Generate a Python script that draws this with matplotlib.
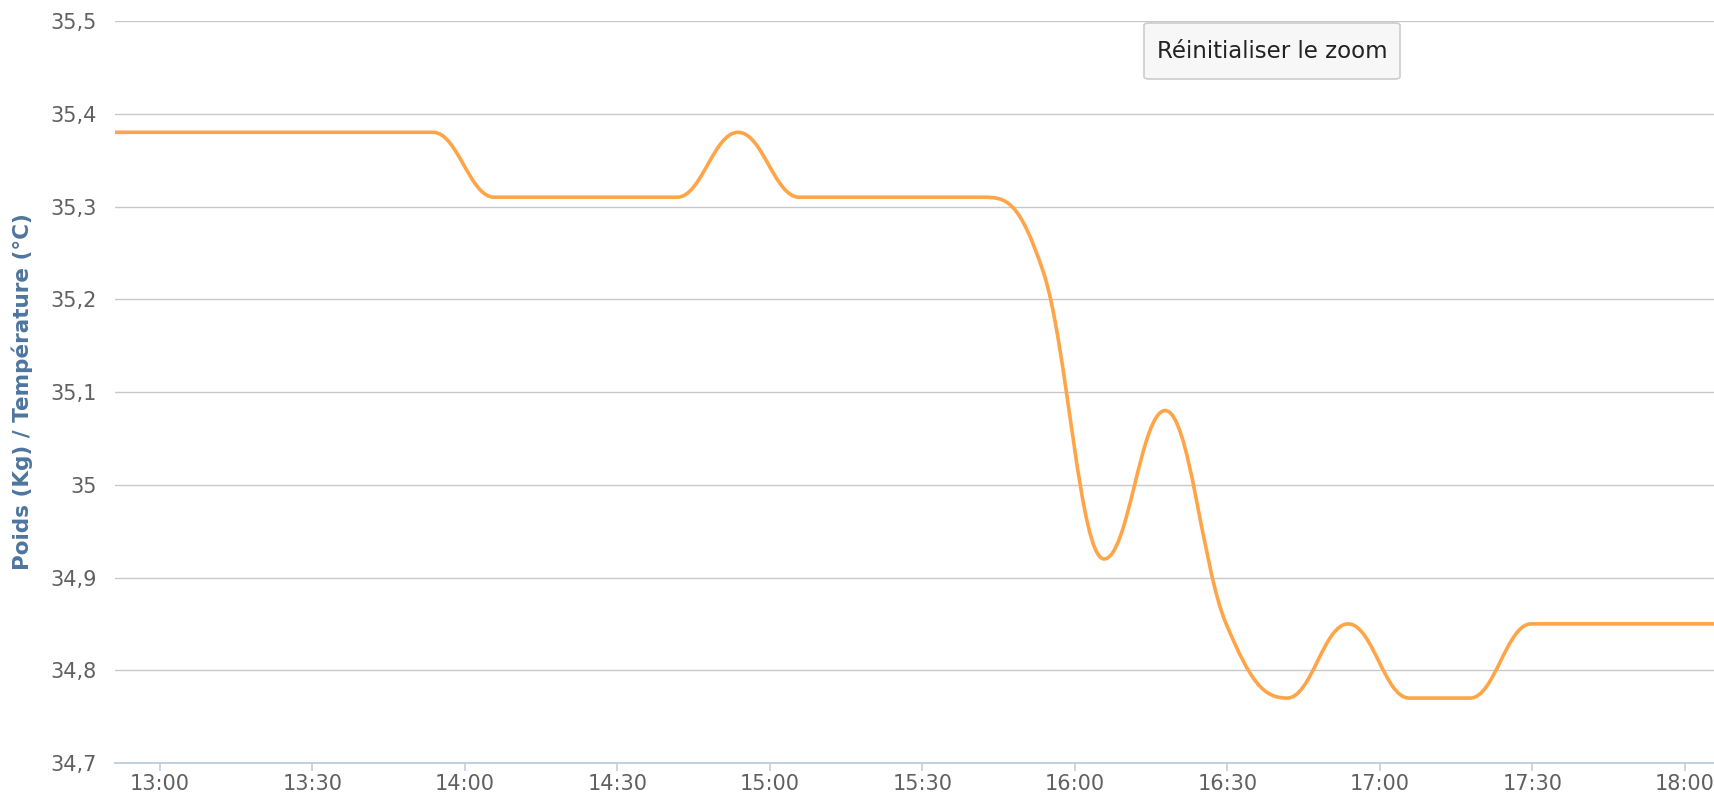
import numpy as np
import pandas as pd
import matplotlib
matplotlib.use("Agg")
import matplotlib.pyplot as plt
import matplotlib.dates as mdates
from matplotlib.path import Path
from matplotlib.patches import PathPatch, FancyBboxPatch
from matplotlib.ticker import FuncFormatter

# Data (one reading every ~12 minutes)
day = "2015-06-01"
times = ["12:41:45", "12:53:45", "13:05:45", "13:17:45", "13:29:45", "13:41:45",
         "13:53:45", "14:05:45", "14:17:45", "14:29:45", "14:41:45", "14:53:45",
         "15:05:45", "15:17:45", "15:29:45", "15:41:45", "15:53:45", "16:05:45",
         "16:17:45", "16:29:45", "16:41:45", "16:53:45", "17:05:45", "17:17:45",
         "17:29:45", "17:41:45", "17:53:45", "18:05:45", "18:17:45"]
weights = [35.38, 35.38, 35.38, 35.38, 35.38, 35.38,
           35.38, 35.31, 35.31, 35.31, 35.31, 35.38,
           35.31, 35.31, 35.31, 35.31, 35.23, 34.92,
           35.08, 34.85, 34.77, 34.85, 34.77, 34.77,
           34.85, 34.85, 34.85, 34.85, 34.85]
y_ticks = [34.7, 34.8, 34.9, 35.0, 35.1, 35.2, 35.3, 35.4, 35.5]
x_start, x_end = "12:51:10", "18:05:55"

line_color = "#FFA548"
grid_color = "#C8C8C8"
axis_color = "#C0D0E0"
label_color = "#606060"
title_color = "#4D759E"


def spline_path(ax, xs, ys, smoothing=1.5):
    """Highcharts-style spline: cubic bezier segments built in pixel space."""
    pts = ax.transData.transform(np.column_stack([xs, ys]))
    n = len(pts)
    left = pts.copy()
    right = pts.copy()
    d = smoothing + 1
    for i in range(1, n - 1):
        px, py = pts[i]
        lx, ly = pts[i - 1]
        nx, ny = pts[i + 1]
        lcx, lcy = (smoothing * px + lx) / d, (smoothing * py + ly) / d
        rcx, rcy = (smoothing * px + nx) / d, (smoothing * py + ny) / d
        # make both control points lie on one straight line through the point
        corr = 0.0
        if rcx != lcx:
            corr = (rcy - lcy) * (rcx - px) / (rcx - lcx) + py - rcy
        lcy += corr
        rcy += corr
        # keep control points from overshooting
        if lcy > ly and lcy > py:
            lcy = max(ly, py); rcy = 2 * py - lcy
        elif lcy < ly and lcy < py:
            lcy = min(ly, py); rcy = 2 * py - lcy
        if rcy > ny and rcy > py:
            rcy = max(ny, py); lcy = 2 * py - rcy
        elif rcy < ny and rcy < py:
            rcy = min(ny, py); lcy = 2 * py - rcy
        left[i] = (lcx, lcy)
        right[i] = (rcx, rcy)

    verts = [pts[0]]
    codes = [Path.MOVETO]
    for i in range(1, n):
        verts += [right[i - 1], left[i], pts[i]]
        codes += [Path.CURVE4] * 3
    verts = ax.transData.inverted().transform(np.array(verts))
    return Path(verts, codes)


def fmt_fr(v, pos):
    s = f"{v:.1f}"
    if s.endswith(".0"):
        s = s[:-2]
    return s.replace(".", ",")


def main():
    t = mdates.date2num(pd.to_datetime([f"{day} {x}" for x in times]))
    y = np.array(weights)

    W, H = 1715, 793
    fig = plt.figure(figsize=(W / 100, H / 100), dpi=100)
    ax = fig.add_axes([115 / W, 30 / H, 1 - 115 / W, 742 / H])

    ax.set_xlim(mdates.date2num(pd.Timestamp(f"{day} {x_start}")),
                mdates.date2num(pd.Timestamp(f"{day} {x_end}")))
    ax.set_ylim(y_ticks[0], y_ticks[-1])

    ax.set_yticks(y_ticks)
    ax.yaxis.set_major_formatter(FuncFormatter(fmt_fr))
    ax.xaxis.set_major_locator(mdates.MinuteLocator(byminute=[0, 30]))
    ax.xaxis.set_major_formatter(mdates.DateFormatter("%H:%M"))

    ax.grid(axis="y", color=grid_color, linewidth=1.0)
    ax.set_axisbelow(True)
    for s in ["top", "right", "left"]:
        ax.spines[s].set_visible(False)
    ax.spines["bottom"].set_color(axis_color)
    ax.spines["bottom"].set_linewidth(1.4)
    ax.spines["bottom"].set_zorder(3)

    ax.tick_params(axis="y", length=0, pad=13, labelsize=15, labelcolor=label_color)
    ax.tick_params(axis="x", length=6, width=1.2, color=axis_color, pad=2,
                   labelsize=15, labelcolor=label_color)

    path = spline_path(ax, t, y)
    ax.add_patch(PathPatch(path, fill=False, edgecolor=line_color,
                           linewidth=2.6, capstyle="round", joinstyle="round", zorder=4))

    fig.text(22 / W, 1 - 392 / H, "Poids (Kg) / Température (°C)", rotation=90,
             ha="center", va="center", fontsize=15.5, fontweight="bold", color=title_color)

    # "reset zoom" button
    bx0, by0, bx1, by1 = 1144, 23, 1400, 79
    btn = FancyBboxPatch((bx0 / W, 1 - by1 / H), (bx1 - bx0) / W, (by1 - by0) / H,
                         boxstyle="round,pad=0,rounding_size=0.003",
                         transform=fig.transFigure, facecolor="#F7F7F7",
                         edgecolor="#CCCCCC", linewidth=1.2, zorder=5)
    fig.patches.append(btn)
    fig.text((bx0 + bx1) / 2 / W, 1 - (by0 + by1) / 2 / H, "Réinitialiser le zoom",
             ha="center", va="center", fontsize=16.5, color="#222222", zorder=6)

    fig.savefig("out.png", dpi=100)


if __name__ == "__main__":
    main()
